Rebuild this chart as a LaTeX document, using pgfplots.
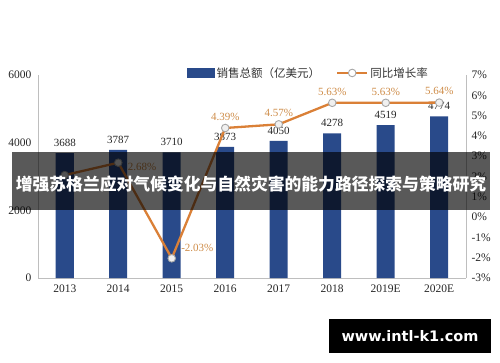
\documentclass[border=0pt]{standalone}
\usepackage{fontspec}
\usepackage{pgfplots}
\pgfplotsset{compat=1.18}
\setmainfont{Liberation Serif}
\newfontfamily\cjk{Noto Sans CJK SC}
\newfontfamily\wm{DejaVu Sans}
\definecolor{barblue}{RGB}{41,74,138}
\definecolor{lineor}{RGB}{218,128,55}
\definecolor{pctlab}{RGB}{206,140,72}
\definecolor{axgray}{RGB}{190,190,190}
\begin{document}
\begin{tikzpicture}
\path[use as bounding box] (0pt,0pt) rectangle (500pt,-362pt);
\begin{axis}[
  at={(38pt,-278pt)}, anchor=south west,
  scale only axis, width=428pt, height=203pt,
  xmin=-0.5, xmax=7.5, ymin=0, ymax=6000,
  axis x line*=bottom, axis y line*=left,
  axis line style={axgray, line width=0.8pt},
  major tick length=0pt,
  xtick={0,...,7},
  xticklabels={2013,2014,2015,2016,2017,2018,2019E,2020E},
  ytick={0,2000,4000,6000},
  /pgf/number format/assume math mode=true,
  /pgf/number format/1000 sep={},
  tick label style={font=\fontsize{11.5}{12}\selectfont, text=black!85},
  yticklabel style={xshift=-3pt},
  xticklabel style={yshift=-3pt},
  clip=false,
]
\addplot[ybar, bar width=18pt, fill=barblue, draw=none,
  nodes near coords,
  every node near coord/.append style={font=\fontsize{11}{12}\selectfont, text=black!85, yshift=3pt}]
  coordinates {(0,3688) (1,3787) (2,3710) (3,3873) (4,4050) (5,4278) (6,4519) (7,4774)};
\end{axis}
\begin{axis}[
  at={(38pt,-278pt)}, anchor=south west,
  scale only axis, width=428pt, height=203pt,
  xmin=-0.5, xmax=7.5, ymin=-3, ymax=7,
  axis x line=none, axis y line*=right,
  axis line style={axgray, line width=0.8pt},
  major tick length=0pt,
  ytick={-3,-2,...,7},
  yticklabel={\pgfmathprintnumber{\tick}\%},
  /pgf/number format/assume math mode=true,
  tick label style={font=\fontsize{11.5}{12}\selectfont, text=black!85},
  yticklabel style={xshift=2pt},
  clip=false,
  legend style={at={(0.632,1.01)}, anchor=center, draw=none, fill=none,
    legend columns=2, font=\cjk\fontsize{11.5}{13}\selectfont,
    /tikz/every even column/.append style={column sep=14pt},
    text=black!80},
]
\addlegendimage{legend image code/.code={\fill[barblue] (0pt,-4.5pt) rectangle (27pt,4.5pt);}}
\addlegendentry{销售总额（亿美元）}
\addplot[lineor, line width=2.3pt, mark=*, mark size=3.8pt,
  mark options={fill=white!94!black, draw=black!35, line width=0.9pt},
  legend image code/.code={\draw[lineor, line width=2.3pt] (0pt,0pt) -- (30pt,0pt);
    \draw[fill=white, draw=black!35, line width=0.9pt] (15pt,0pt) circle (3.8pt);}]
  coordinates {(0,2.07) (1,2.68) (2,-2.03) (3,4.39) (4,4.57) (5,5.63) (6,5.63) (7,5.64)};
\addlegendentry{同比增长率}
% labels
\addplot[draw=none, forget plot, nodes near coords={\pgfmathprintnumber[fixed,fixed zerofill,precision=2]{\pgfplotspointmeta}\%},
  every node near coord/.append style={anchor=south, yshift=4pt, font=\fontsize{11}{12}\selectfont, text=pctlab}]
  coordinates {(3,4.39) (4,4.57) (5,5.63) (6,5.63) (7,5.64)};
\addplot[draw=none, forget plot, nodes near coords={\pgfmathprintnumber[fixed,fixed zerofill,precision=2]{\pgfplotspointmeta}\%},
  every node near coord/.append style={anchor=west, xshift=6pt, yshift=-4pt, font=\fontsize{11}{12}\selectfont, text=pctlab}]
  coordinates {(1,2.68)};
\addplot[draw=none, forget plot, nodes near coords={\pgfmathprintnumber[fixed,fixed zerofill,precision=2]{\pgfplotspointmeta}\%},
  every node near coord/.append style={anchor=west, xshift=6pt, yshift=10pt, font=\fontsize{11}{12}\selectfont, text=pctlab}]
  coordinates {(2,-2.03)};
\end{axis}
% banner overlay
\fill[black, opacity=0.65] (12pt,-152pt) rectangle (490pt,-210pt);
\node[text=white, font=\cjk\bfseries\fontsize{16.8}{18}\selectfont, inner sep=0pt] at (251pt,-184pt) {增强苏格兰应对气候变化与自然灾害的能力路径探索与策略研究};
% watermark
\fill[black] (329pt,-319pt) rectangle (491pt,-353pt);
\node[text=white, font=\wm\bfseries\fontsize{14.5}{16}\selectfont, inner sep=0pt] at (410pt,-336pt) {www.intl-k1.com};
\end{tikzpicture}
\end{document}
